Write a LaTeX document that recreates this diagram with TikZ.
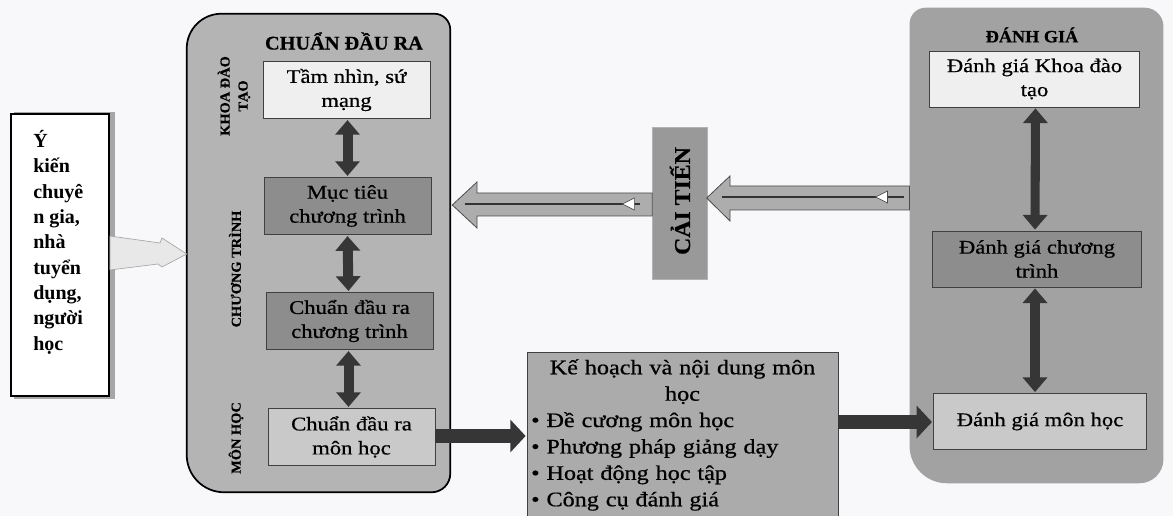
\documentclass[tikz,border=0pt]{standalone}
\usepackage{fontspec}
\setmainfont{Liberation Serif}
\newfontfamily\boxfont[FakeStretch=1.17,FakeBold=0.6]{Liberation Serif}
\newfontfamily\headfont[FakeStretch=1.05,FakeBold=0.6]{Liberation Serif}
\usetikzlibrary{arrows.meta,calc}

\definecolor{pagebg}{HTML}{F8F7FA}
\definecolor{panelA}{HTML}{B4B4B4}
\definecolor{panelB}{HTML}{A2A2A2}
\definecolor{lightbox}{HTML}{EFEFEF}
\definecolor{darkbox}{HTML}{8D8D8D}
\definecolor{midbox}{HTML}{C9C9C9}
\definecolor{planbox}{HTML}{ABABAB}
\definecolor{tipdark}{HTML}{363636}
\definecolor{blockfill}{HTML}{ADADAD}

\begin{document}
\begin{tikzpicture}[x=0.75pt,y=-0.75pt,
  boxtext/.style={font=\boxfont\fontsize{14.5}{18}\selectfont, align=center},
  stage/.style={boxtext, draw=black!75, line width=0.6pt, minimum width=125.25pt, minimum height=43pt, inner sep=2pt},
  evalbox/.style={boxtext, draw=black!75, line width=0.6pt, minimum width=157pt, minimum height=42pt, inner sep=2pt},
  sidelabel/.style={font=\headfont\bfseries\fontsize{10.3}{13.5}\selectfont, rotate=90, align=center},
  twoway/.style={draw=tipdark, line width=7.5pt, {Triangle[length=11pt,width=18pt]}-{Triangle[length=11pt,width=18pt]}},
  flow/.style={draw=tipdark, line width=11pt, -{Triangle[length=11.5pt,width=24pt]}},
  blockarrow/.style={fill=blockfill, draw=black!70, line width=0.6pt},
  innerline/.style={draw=black!80, line width=2.2pt},
  hollowtip/.style={fill=white, draw=black!70, line width=0.5pt}
]
\useasboundingbox (0,0) rectangle (1173,516);
\clip (0,0) rectangle (1173,516);
\fill[pagebg] (0,0) rectangle (1173,516);

% ---- left input box ----
\fill[black!35] (14,112) rectangle (115,399);
\node[draw=black, line width=1.4pt, fill=white, minimum width=73.5pt, minimum height=211.5pt, inner sep=0pt] (yk) at (60,255) {};
\node[anchor=north west, align=left, font=\bfseries\fontsize{15}{19}\selectfont, inner sep=0pt] (ykt) at (33,130)
  {Ý\\kiến\\chuyê\\n gia,\\nhà\\tuyển\\dụng,\\người\\học};

% ---- learning outcomes panel ----
\node[minimum width=197.25pt, minimum height=358.5pt, inner sep=0pt] (cdr) at (318.5,253) {};
\path[draw=black, line width=1.3pt, fill=panelA]
  (cdr.north) [rounded corners=26pt] -| (cdr.west) [rounded corners=28pt] |- (cdr.south)
  [rounded corners=14pt] -| (cdr.east) [rounded corners=12pt] |- ($(cdr.north)+(1,0)$) [sharp corners] -- cycle;
\node[font=\headfont\bfseries\fontsize{14.5}{18}\selectfont] (cdrt) at (344,41) {CHUẨN ĐẦU RA};
\node[sidelabel] (lk) at (234,96) {KHOA ĐÀO\\TẠO};
\node[sidelabel] (lc) at (235,269) {CHƯƠNG TRÌNH};
\node[sidelabel] (lm) at (236,438) {MÔN HỌC};

\node[stage, fill=lightbox] (tn) at (346.5,90) {Tầm nhìn, sứ\\mạng};
\node[stage, fill=darkbox] (mt) at (347.5,206) {Mục tiêu\\chương trình};
\node[stage, fill=darkbox] (cdct) at (349.5,321) {Chuẩn đầu ra\\chương trình};
\node[stage, fill=midbox] (cdmh) at (351.5,437) {Chuẩn đầu ra\\môn học};

\draw[twoway] ($(tn.south)+(1,1)$) -- ($(mt.north)+(0,-1)$);
\draw[twoway] ($(mt.south)+(0,1)$) -- ($(cdct.north)+(-1,-1)$);
\draw[twoway] ($(cdct.south)+(-1,1)$) -- ($(cdmh.north)+(-3,-1)$);

% ---- pale arrow from input box into the panel ----
\path[fill=black!9, draw=black!35, line width=0.5pt]
  (yk.east |- 0,236) -- (160,243) -- (162,238) -- (cdr.west |- 0,254) -- (162,267) -- (158,264) -- (yk.east |- 0,270) -- cycle;

% ---- evaluation panel ----
\node[minimum width=190pt, minimum height=356.25pt, inner sep=0pt] (dg) at (1036.5,245.5) {};
\path[fill=panelB]
  (dg.north) [rounded corners=12pt] -| (dg.west) [rounded corners=28pt] |- (dg.south)
  [rounded corners=18pt] -| (dg.east) [rounded corners=14pt] |- ($(dg.north)+(1,0)$) [sharp corners] -- cycle;
\node[font=\headfont\bfseries\fontsize{13}{16}\selectfont] (dgt) at (1032,35) {ĐÁNH GIÁ};
\node[evalbox, fill=lightbox] (dgk) at (1034.5,79) {Đánh giá Khoa đào\\tạo};
\node[evalbox, fill=darkbox] (dgct) at (1037,259) {Đánh giá chương\\trình};
\node[evalbox, fill=midbox, minimum width=160pt] (dgmh) at (1040,421.5) {Đánh giá môn học};

\draw[twoway, line width=6.8pt] ($(dgk.south)+(1,1)$) -- ($(dgct.north)+(-2,-1)$);
\draw[twoway, line width=6.8pt] ($(dgct.south)+(-2,1)$) -- ($(dgmh.north)+(-5,-1)$);

% ---- improvement box and its feedback arrows ----
\node[fill=black!40, draw=black!30, line width=0.5pt, minimum width=41pt, minimum height=114pt, inner sep=0pt] (ct) at (680,203.5) {};
\node[font=\headfont\bfseries\fontsize{17}{20}\selectfont, rotate=90] (ctt) at (680,201) {CẢI TIẾN};

\path[blockarrow] ($(cdr.east |- 0,205)+(2,0)$) -- (477,182) -- (477,193) -- (ct.west |- 0,193)
  -- (ct.west |- 0,216) -- (477,216) -- (477,228) -- cycle;
\draw[innerline] ($(cdr.east |- 0,204)+(15,0)$) -- ($(ct.west |- 0,204)+(-12,0)$);
\path[hollowtip] ($(ct.west |- 0,204)+(-30,0)$) -- ++(12,-6) -- ++(0,12) -- cycle;

\path[blockarrow] ($(ct.east |- 0,198)+(-1,0)$) -- (730,176) -- (730,186) -- (dg.west |- 0,186)
  -- (dg.west |- 0,210) -- (730,210) -- (730,221) -- cycle;
\draw[innerline] ($(ct.east |- 0,197)+(14,0)$) -- ($(dg.west |- 0,197)+(-6,0)$);
\path[hollowtip] ($(dg.west |- 0,197)+(-34,0)$) -- ++(12,-6) -- ++(0,12) -- cycle;

% ---- course plan box ----
\node[fill=planbox, draw=black!75, line width=0.6pt, minimum width=233.25pt, minimum height=124.5pt,
  text width=227pt, inner sep=3pt, align=left, font=\boxfont\fontsize{15.5}{19.8}\selectfont] (kh) at (682.5,435)
  {{\centering Kế hoạch và nội dung môn\\học\par}
   \textbullet\ Đề cương môn học\\
   \textbullet\ Phương pháp giảng dạy\\
   \textbullet\ Hoạt động học tập\\
   \textbullet\ Công cụ đánh giá};

\draw[flow] (cdmh.east |- 0,436) -- ($(kh.west |- 0,436)+(-1,0)$);
\draw[flow] (kh.east |- 0,422) -- ($(dgmh.west |- 0,422)+(-1,0)$);
\end{tikzpicture}
\end{document}
